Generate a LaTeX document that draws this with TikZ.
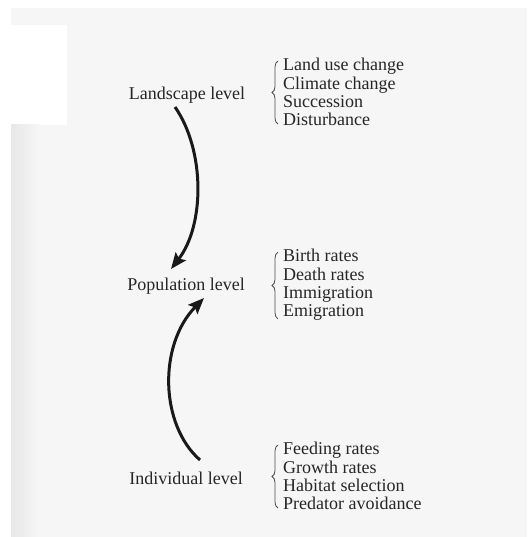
\documentclass[tikz,border=0pt]{standalone}
\usepackage{fontspec}
\setmainfont{Liberation Serif}
\usetikzlibrary{arrows.meta,decorations.pathreplacing}
\begin{document}
\begin{tikzpicture}[x=1pt,y=-1pt,
  lvl/.style={inner sep=0pt,font=\fontsize{18}{18}\selectfont,text=black!85},
  items/.style={inner sep=0pt,align=left,anchor=west,font=\fontsize{18}{18.3}\selectfont,text=black!85},
  bracestyle/.style={draw=black!70,line width=0.8pt,decorate,decoration={brace,amplitude=6pt}},
  bigarrow/.style={draw=black!90,line width=3pt,-{Stealth[length=16pt,width=13pt,inset=3pt]}}]
\useasboundingbox (0,0) rectangle (527,537);
% page background
\fill[gray!7] (11,8) rectangle (527,537);
\fill[white] (11,25) rectangle (67,125);
\shade[left color=gray!18,right color=gray!7] (11,125) rectangle (40,537);
% levels
\node[lvl] (L) at (187,95) {Landscape level};
\node[lvl] (P) at (186,286) {Population level};
\node[lvl] (I) at (186,478) {Individual level};
% item lists
\node[items] (LI) at (283,92) {Land use change\\Climate change\\Succession\\Disturbance};
\node[items] (PI) at (283,285) {Birth rates\\Death rates\\Immigration\\Emigration};
\node[items] (II) at (283,476) {Feeding rates\\Growth rates\\Habitat selection\\Predator avoidance};
% braces
\draw[bracestyle] ([xshift=-5pt,yshift=2pt]LI.south west) -- ([xshift=-5pt,yshift=-3pt]LI.north west);
\draw[bracestyle] ([xshift=-5pt,yshift=2pt]PI.south west) -- ([xshift=-5pt,yshift=-3pt]PI.north west);
\draw[bracestyle] ([xshift=-5pt,yshift=2pt]II.south west) -- ([xshift=-5pt,yshift=-3pt]II.north west);
% arrows
\coordinate (a1s) at (175,107);
\coordinate (a1e) at (171,269);
\coordinate (a2s) at (200,460);
\coordinate (a2e) at (204,298);
\draw[bigarrow] (a1s) .. controls (205,150) and (205,225) .. (a1e);
\draw[bigarrow] (a2s) .. controls (160,425) and (158,345) .. (a2e);
\end{tikzpicture}
\end{document}
